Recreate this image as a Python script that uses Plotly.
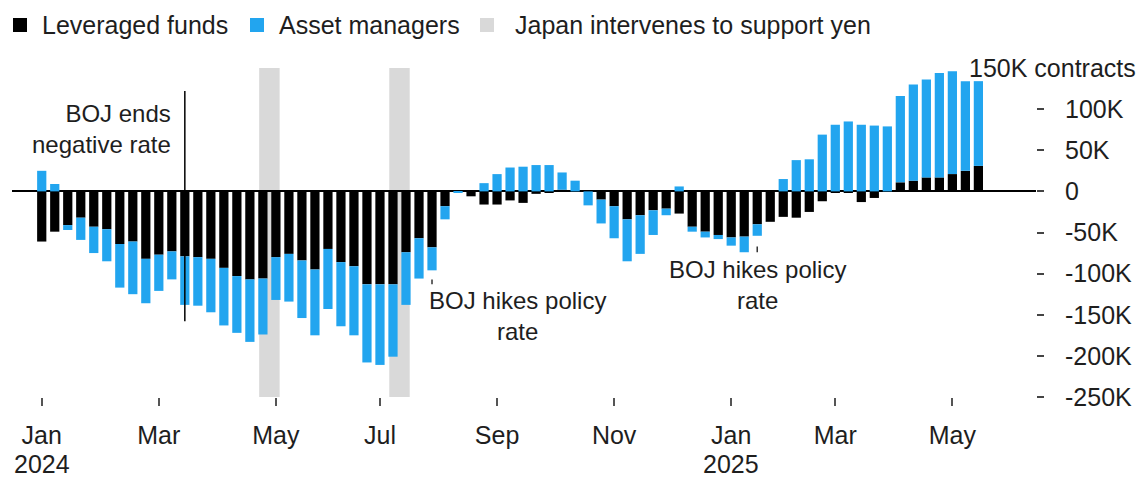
import pandas as pd
import plotly.graph_objects as go

# Weekly CFTC positioning in yen futures, thousands of contracts (net)
week_start = "2024-01-02"
n_weeks = 73
weeks = pd.date_range(week_start, periods=n_weeks, freq="7D")

leveraged_funds = [
    -61, -49, -41, -32, -43, -46, -64, -61, -82, -77,
    -73, -79, -80, -82, -93, -103, -107, -106, -80, -76,
    -84, -95, -70, -86, -91, -113, -113, -113, -74, -57,
    -68, -18, 0, -6, -16, -16, -11, -14, -3, -1,
    2, 0, 0, -10, -18, -34, -29, -23, -21, -27,
    -43, -49, -53, -56, -55, -40, -37, -31, -32, -25,
    -12, -1, -2, -13, -8, 0, 11, 13, 17, 17,
    21, 25, 31,
]
asset_managers = [
    25, 9, -6, -27, -32, -39, -53, -64, -54, -44,
    -34, -59, -59, -65, -70, -69, -76, -68, -52, -58,
    -70, -80, -73, -78, -84, -95, -98, -88, -64, -49,
    -28, -16, -2, 0, 10, 21, 29, 30, 32, 32,
    21, 13, -17, -29, -39, -51, -47, -30, -8, 6,
    -6, -7, -5, -10, -19, -14, 0, 15, 38, 39,
    69, 81, 85, 81, 80, 79, 105, 117, 119, 127,
    125, 109, 103,
]

series_names = ["Leveraged funds", "Asset managers"]
band_name = "Japan intervenes to support yen"

# Yen-support intervention windows
intervention_start = ["2024-04-28", "2024-07-07"]
intervention_end = ["2024-05-09", "2024-07-18"]

# BOJ policy events
neg_rate_end_date = "2024-03-19"
hike_dates = ["2024-07-30", "2025-01-21"]

# Month ticks sit on the first weekly report of every other month
x_tick_dates = ["2024-01-02", "2024-03-05", "2024-05-07", "2024-07-02", "2024-09-03",
                "2024-11-05", "2025-01-07", "2025-03-04", "2025-05-06"]
x_tick_text = ["Jan", "Mar", "May", "Jul", "Sep", "Nov", "Jan", "Mar", "May"]
year_dates = ["2024-01-02", "2025-01-07"]
year_text = ["2024", "2025"]
y_tick_vals = [-250, -200, -150, -100, -50, 0, 50, 100]
y_tick_text = ["-250K", "-200K", "-150K", "-100K", "-50K", "0", "50K", "100K"]

BLACK = "#000000"
BLUE = "#22a5ef"
GRAY = "#d9d9d9"
TEXT = "#1e1e1e"
FONT = "Liberation Sans, Arial, sans-serif"

W, H = 1144, 477
L, R, T, B = 12, 108, 68, 80


def px_x(p):
    return (p - L) / (W - L - R)


def px_y(p):
    return (H - B - p) / (H - T - B)


fig = go.Figure()
fig.add_trace(go.Bar(x=weeks, y=leveraged_funds, name=series_names[0],
                     marker=dict(color=BLACK, line=dict(width=0))))
fig.add_trace(go.Bar(x=weeks, y=asset_managers, name=series_names[1],
                     marker=dict(color=BLUE, line=dict(width=0))))

shapes = []
for s, e in zip(intervention_start, intervention_end):
    shapes.append(dict(type="rect", xref="x", yref="y", x0=s, x1=e, y0=-250, y1=150,
                       fillcolor=GRAY, line=dict(width=0), layer="below"))

# Vertical marker for the end of negative rates
shapes.append(dict(type="line", xref="x", yref="y", x0=neg_rate_end_date, x1=neg_rate_end_date,
                   y0=-158, y1=122, line=dict(color=BLACK, width=1.5), layer="above"))

# Short leader ticks for the rate hikes
for d, (y0, y1) in zip(hike_dates, [(-107, -113), (-67, -74)]):
    shapes.append(dict(type="line", xref="x", yref="y", x0=d, x1=d, y0=y0, y1=y1,
                       line=dict(color="#333333", width=1.5)))

# Legend swatches
legend_items = [(series_names[0], BLACK, 13, 40), (series_names[1], BLUE, 250, 277),
                (band_name, GRAY, 480, 513)]
annotations = []
for name, color, sx, tx in legend_items:
    shapes.append(dict(type="rect", xref="paper", yref="paper",
                       x0=px_x(sx), x1=px_x(sx + 14), y0=px_y(32), y1=px_y(18),
                       fillcolor=color, line=dict(width=0)))
    annotations.append(dict(xref="paper", yref="paper", x=px_x(tx), y=px_y(25),
                            xanchor="left", yanchor="middle", showarrow=False,
                            text=name, font=dict(size=25, color=TEXT)))

# Year labels under the January ticks
for d, t in zip(year_dates, year_text):
    annotations.append(dict(x=d, xref="x", y=px_y(464), yref="paper", xanchor="center",
                            yanchor="middle", text=t, showarrow=False,
                            font=dict(size=25, color=TEXT)))

annotations += [
    dict(x=neg_rate_end_date, y=76, xref="x", yref="y", xanchor="right", yanchor="middle",
         xshift=-12, text="BOJ ends<br>negative rate", align="right", showarrow=False,
         font=dict(size=24, color=TEXT)),
    dict(x=hike_dates[0], y=-151, xref="x", yref="y", xanchor="left", yanchor="middle",
         xshift=-5, text="BOJ hikes policy<br>rate", align="center", showarrow=False,
         font=dict(size=24, color=TEXT)),
    dict(x=hike_dates[1], y=-114, xref="x", yref="y", xanchor="center", yanchor="middle",
         text="BOJ hikes policy<br>rate", align="center", showarrow=False,
         font=dict(size=24, color=TEXT)),
    dict(x=1.0996, y=150, xref="paper", yref="y", xanchor="right", yanchor="middle",
         text="150K contracts", showarrow=False, font=dict(size=25, color=TEXT)),
]

fig.update_layout(
    width=W, height=H, autosize=False,
    margin=dict(l=L, r=R, t=T, b=B, pad=0, autoexpand=False),
    paper_bgcolor="white", plot_bgcolor="white",
    barmode="relative", bargap=0.29,
    showlegend=False,
    font=dict(family=FONT, color=TEXT, size=25),
    shapes=shapes, annotations=annotations,
    xaxis=dict(type="date", range=["2023-12-17", "2025-06-20"], automargin=False,
               tickmode="array", tickvals=x_tick_dates, ticktext=x_tick_text,
               ticks="outside", ticklen=8, tickwidth=1.5, tickcolor="#555555",
               showgrid=False, zeroline=False, showline=False,
               tickfont=dict(size=25, color=TEXT), ticklabelstandoff=8),
    yaxis=dict(range=[-250, 150], side="right", automargin=False,
               tickmode="array", tickvals=y_tick_vals, ticktext=y_tick_text,
               ticks="outside", ticklen=7, tickwidth=2, tickcolor="#444444",
               showgrid=False, zeroline=True, zerolinecolor=BLACK, zerolinewidth=1.5,
               showline=False, tickfont=dict(size=25, color=TEXT), ticklabelstandoff=16),
)

fig.write_html("out.html")
